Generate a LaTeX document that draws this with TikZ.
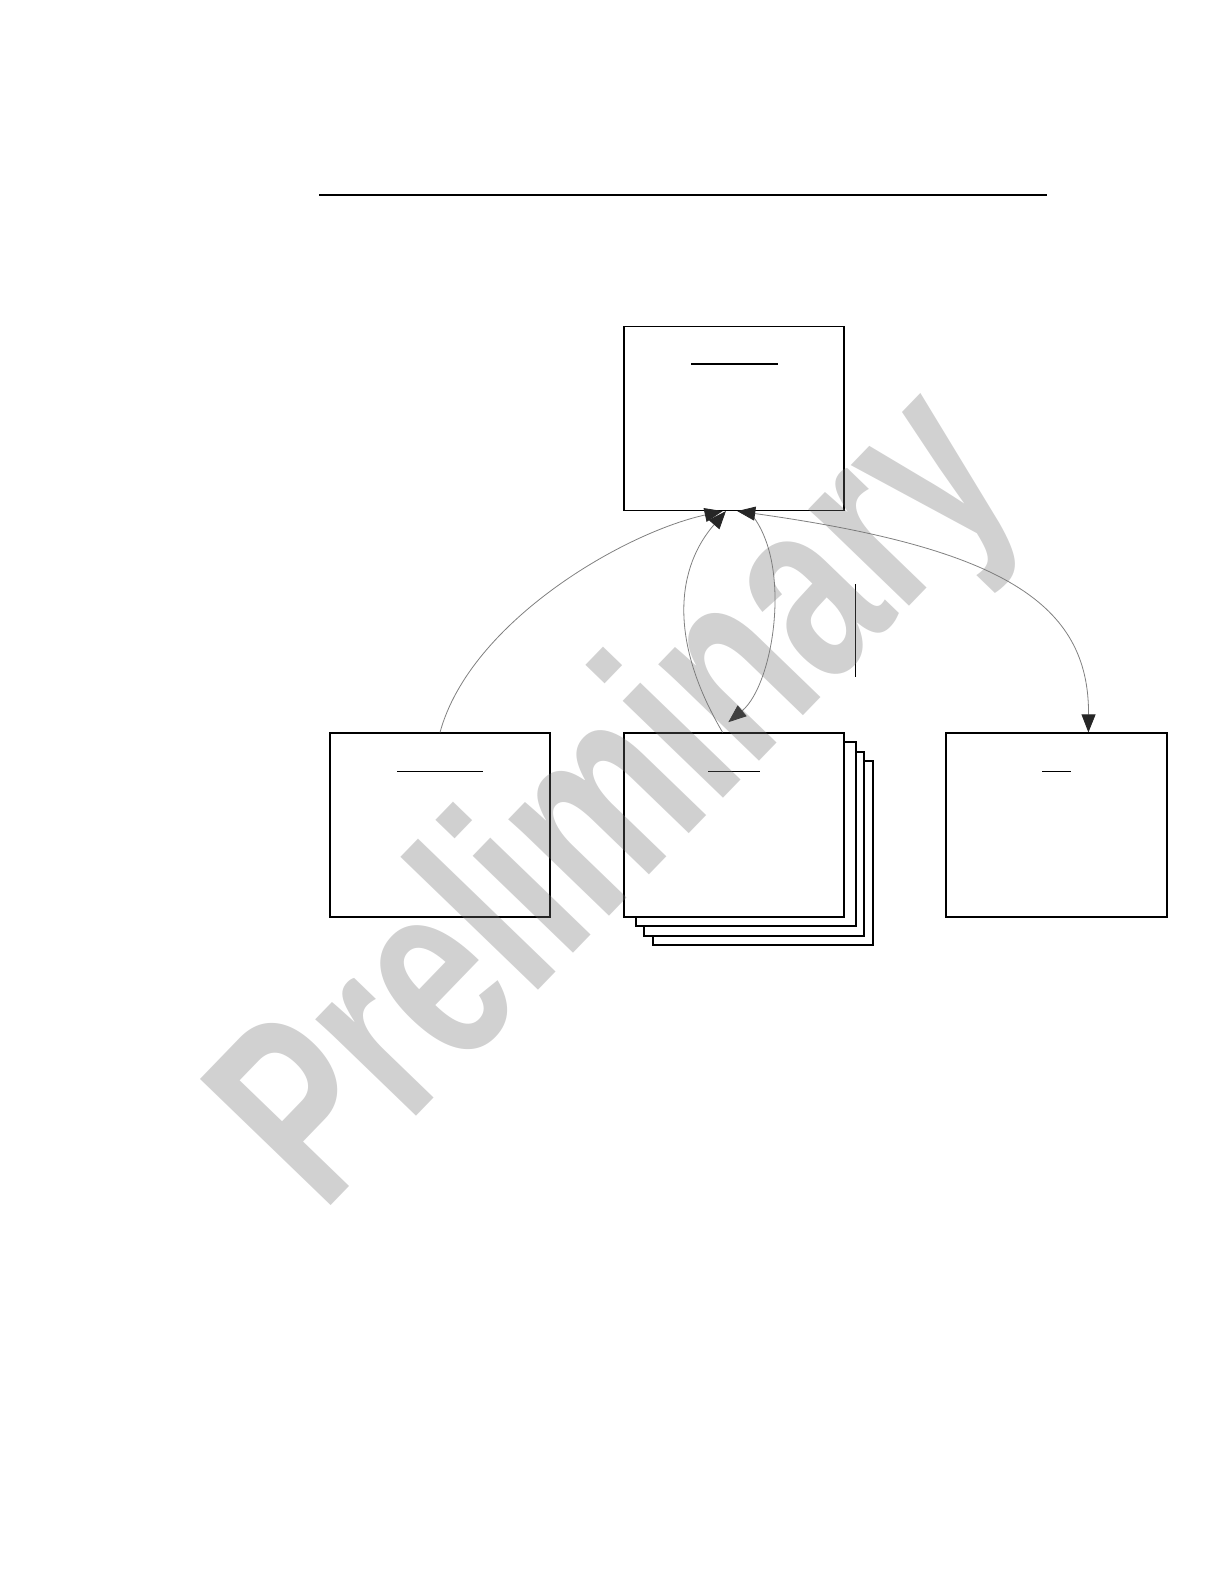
\documentclass[tikz,border=0pt]{standalone}
\usepackage{fontspec}
\newfontfamily\markfont{Liberation Sans}
\usepackage{tikz}
\usetikzlibrary{calc,positioning,arrows.meta,shapes}

\begin{document}
\begin{tikzpicture}[x=0.5pt,y=-0.5pt]

	\tikzstyle{block} = [rectangle, draw, line width=0.6pt, fill=white,
		minimum width=110pt, minimum height=92pt, inner sep=0pt]
	\tikzstyle{line} = [draw, gray, line width=0.4pt,
		>={Triangle[length=9pt,width=7pt,color=black!85]}]
	\tikzstyle{headline} = [line width=0.5pt]

	\useasboundingbox (0,0) rectangle (1224,1584);

	\draw [line width=0.9pt] (319,195) -- (1047,195);

	\node[block] (top) at (734,418.5) {};
	\node[block] (left) at (440,825) {};
	\node[block] (stackc) at (763,853) {};
	\node[block] (stackb) at (754,844) {};
	\node[block] (stacka) at (746,834) {};
	\node[block] (mid) at (734,825) {};
	\node[block, minimum width=110.5pt] (right) at (1056.5,825) {};

	% title bars
	\draw [line width=1pt] (691,364) -- (778,364);
	\draw [headline] (397,771) -- (483,771);
	\draw [headline] (708,771) -- (760,771);
	\draw [headline] (1042,771) -- (1071,771);

	\draw [line width=0.5pt] (855,584) -- (855,677);

	% connectors
	\path [line,->] (left.north) .. controls +(30,-110) and +(-100,22) .. (top.263);
	\path [line,->] (mid.97) .. controls +(-56,-95) and +(-48,55) .. (top.265);
	\path [line,->,shorten >=8pt] (top.279) .. controls +(45,49) and +(58,-48) .. (mid.101);
	\path [line,<->] (top.272) .. controls +(265,37) and +(1,-129) .. (right.71);

	%watermark
	\node[anchor=base, rotate=46, text=black!55, opacity=0.33,
		font=\markfont\bfseries\fontsize{132}{132}\selectfont,
		xscale=0.7, inner sep=0pt] (mark) at (672,852) {Preliminary};

\end{tikzpicture}
\end{document}
